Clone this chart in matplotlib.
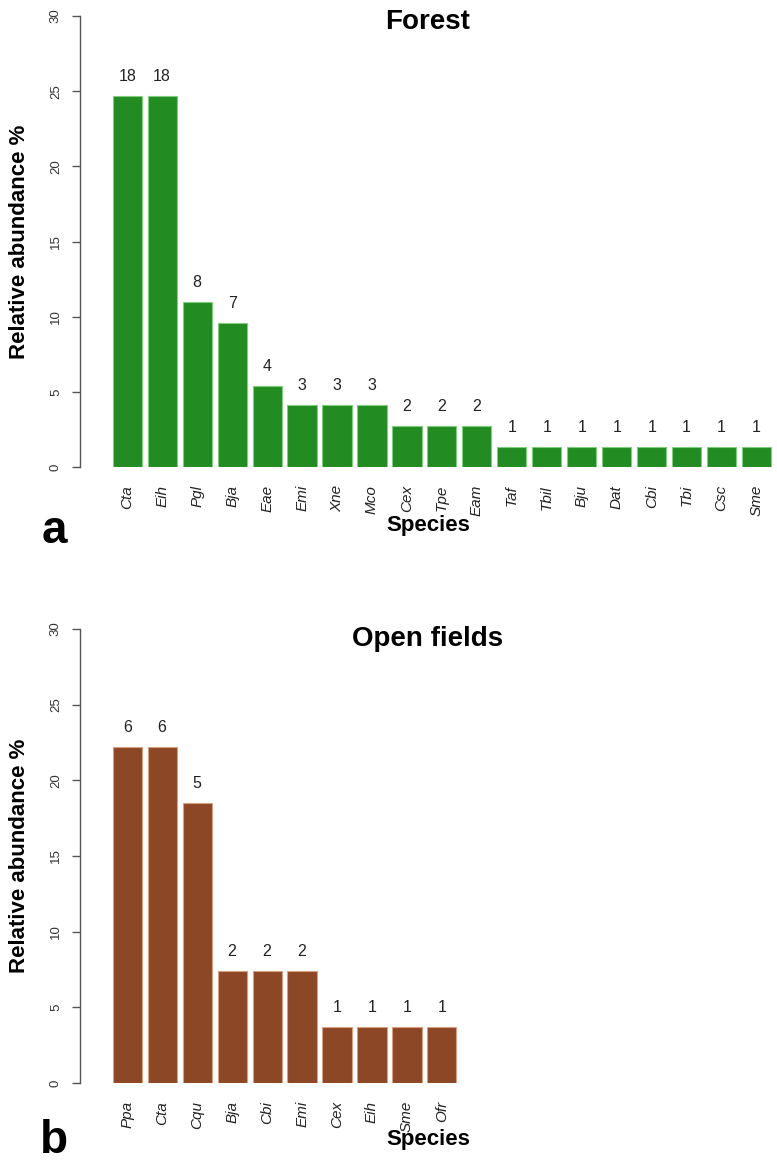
"""
Relative abundance of species in forest and open fields.
"""
import numpy
import matplotlib
matplotlib.use("Agg")
import matplotlib.pyplot as plt

plt.rcParams['font.family'] = ['Liberation Sans', 'DejaVu Sans']

# panel a: forest
forest_species = ["Cta", "Eih", "Pgl", "Bja", "Eae", "Emi", "Xne", "Mco",
                  "Cex", "Tpe", "Eam", "Taf", "Tbil", "Bju", "Dat", "Cbi",
                  "Tbi", "Csc", "Sme"]
forest_counts = [18, 18, 8, 7, 4, 3, 3, 3, 2, 2, 2, 1, 1, 1, 1, 1, 1, 1, 1]
forest_abund = [24.7, 24.7, 11.0, 9.6, 5.4, 4.1, 4.1, 4.1, 2.7, 2.7, 2.7,
                1.35, 1.35, 1.35, 1.35, 1.35, 1.35, 1.35, 1.35]

# panel b: open fields
open_species = ["Ppa", "Cta", "Cqu", "Bja", "Cbi", "Emi", "Cex", "Eih",
                "Sme", "Ofr"]
open_counts = [6, 6, 5, 2, 2, 2, 1, 1, 1, 1]
open_abund = [22.2, 22.2, 18.5, 7.4, 7.4, 7.4, 3.7, 3.7, 3.7, 3.7]

W, H = 777, 1162
fig = plt.figure(figsize=(W / 100, H / 100), dpi=100)


def px_axes(left, right, top, bottom):
    return fig.add_axes([left / W, 1 - bottom / H,
                         (right - left) / W, (bottom - top) / H])


def draw_panel(ax, species, counts, abund, color, edge, title, letter,
               title_y, letter_y, xlab_y):
    x = 0.7 + 1.2 * numpy.arange(len(species))
    ax.bar(x, abund, width=1.0, color=color, edgecolor=edge, linewidth=0.8)
    for xi, c, a in zip(x, counts, abund):
        ax.annotate(str(c), (xi, a), xytext=(0, 14), textcoords='offset points',
                    ha='center', va='center', fontsize=11.5, color='#222222')
    ax.set_xlim(-0.92, 23.0)
    ax.set_ylim(0, 30)
    ax.set_xticks(x)
    ax.set_xticklabels(species, rotation=90, style='italic', fontsize=11,
                       color='#222222')
    ax.tick_params(axis='x', length=0, pad=13)
    ax.set_yticks([0, 5, 10, 15, 20, 25, 30])
    ax.set_yticklabels([0, 5, 10, 15, 20, 25, 30], rotation=90,
                       va='center', fontsize=9.5, color='#333333')
    ax.tick_params(axis='y', length=6, width=1, color='#555555', pad=7)
    for s in ('top', 'right', 'bottom'):
        ax.spines[s].set_visible(False)
    ax.spines['left'].set_color('#555555')
    ax.spines['left'].set_linewidth(1)
    ax.spines['left'].set_bounds(0, 30)
    ax.patch.set_alpha(0)
    fig.text(428 / W, 1 - title_y / H, title, ha='center', va='center',
             fontsize=20, fontweight='bold')
    fig.text(428 / W, 1 - xlab_y / H, "Species", ha='center', va='center',
             fontsize=16, fontweight='bold')
    fig.text(54 / W, 1 - letter_y / H, letter, ha='center', va='baseline',
             fontsize=33, fontweight='bold')
    ax.set_ylabel("Relative abundance %", fontsize=16, fontweight='bold',
                  labelpad=14)


ax1 = px_axes(80, 777, 16, 467)
draw_panel(ax1, forest_species, forest_counts, forest_abund, '#228B22',
           '#7fcf7f', "Forest", "a", 22, 543, 526)

ax2 = px_axes(80, 777, 629, 1083)
draw_panel(ax2, open_species, open_counts, open_abund, '#8B4726',
           '#d9a07f', "Open fields", "b", 639, 1153, 1140)

fig.savefig("out.png", dpi=100)
